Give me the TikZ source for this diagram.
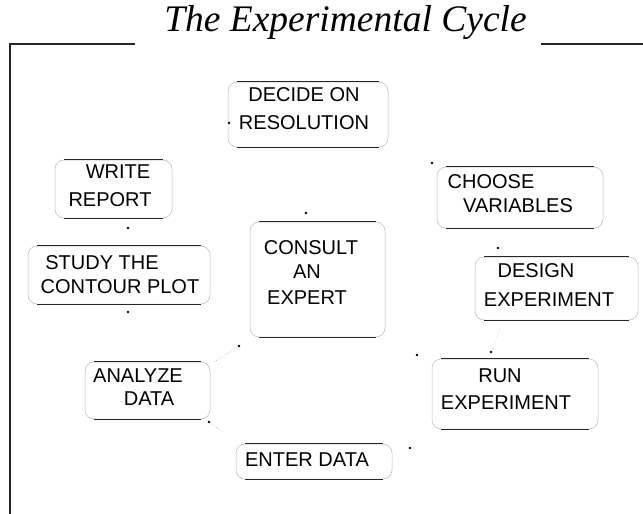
\documentclass[tikz,border=0pt]{standalone}
\usepackage{fontspec}
\setmainfont{Liberation Sans}
\newfontfamily\titlefont{Liberation Serif}
\begin{document}
\begin{tikzpicture}[x=1pt,y=-1pt,
  box/.style={draw=black!28, line width=0.5pt, rounded corners=9pt, inner sep=0pt},
  edgeline/.style={draw=black!85, line width=1.1pt},
  lbl/.style={inner sep=0pt, font=\fontsize{20}{24}\selectfont},
  dotmark/.style={circle, fill=black, inner sep=0pt, minimum size=2.6pt},
  faint/.style={draw=black!35, dotted, line width=0.6pt},
  frameline/.style={draw=black!85, line width=1.3pt}]
\useasboundingbox (0,0) rectangle (643,514);
% title and frame
\node[font=\titlefont\itshape\fontsize{37.5}{40}\selectfont, inner sep=0pt, anchor=base] (title) at (345.5,31) {The Experimental Cycle};
\coordinate (fl0) at (10,514);
\coordinate (fl1) at (10,44);
\coordinate (fl2) at (135,44);
\coordinate (fr1) at (541,44);
\coordinate (fr2) at (643,44);
\draw[frameline] (fl0) -- (fl1) -- (fl2);
\draw[frameline] (fr1) -- (fr2);
% boxes
\node[box, minimum width=160pt, minimum height=65pt] (decide) at (308,114.5) {};
\node[box, minimum width=117pt, minimum height=58pt] (write) at (113.5,189) {};
\node[box, minimum width=182pt, minimum height=58pt] (study) at (119,275) {};
\node[box, minimum width=135pt, minimum height=115pt] (consult) at (317.5,279.5) {};
\node[box, minimum width=166pt, minimum height=61pt] (choose) at (520,197.5) {};
\node[box, minimum width=163pt, minimum height=63pt] (design) at (556.5,288.5) {};
\node[box, minimum width=125pt, minimum height=57pt] (analyze) at (147.5,390.5) {};
\node[box, minimum width=166pt, minimum height=70pt] (run) at (515,394) {};
\node[box, minimum width=156pt, minimum height=35pt] (enter) at (314,461.5) {};
\foreach \n in {decide,write,study,consult,choose,design,analyze,run,enter}{
  \draw[edgeline] ([xshift=9pt]\n.north west) -- ([xshift=-9pt]\n.north east);
  \draw[edgeline] ([xshift=9pt]\n.south west) -- ([xshift=-9pt]\n.south east);
}
% labels
\node[lbl] (decide1) at (304,95) {DECIDE ON};
\node[lbl] (decide2) at (304,123) {RESOLUTION};
\node[lbl] (write1) at (118,172) {WRITE};
\node[lbl] (write2) at (110,200) {REPORT};
\node[lbl] (study1) at (102,263) {STUDY THE};
\node[lbl] (study2) at (120,287) {CONTOUR PLOT};
\node[lbl] (consult1) at (311,248) {CONSULT};
\node[lbl] (consult2) at (307,272) {AN};
\node[lbl] (consult3) at (307,298) {EXPERT};
\node[lbl] (choose1) at (491,182) {CHOOSE};
\node[lbl] (choose2) at (518,206) {VARIABLES};
\node[lbl] (design1) at (536,271) {DESIGN};
\node[lbl] (design2) at (549,300) {EXPERIMENT};
\node[lbl] (analyze1) at (138,376) {ANALYZE};
\node[lbl] (analyze2) at (149,399) {DATA};
\node[lbl] (run1) at (500,376) {RUN};
\node[lbl] (run2) at (506,403) {EXPERIMENT};
\node[lbl] (enter1) at (307,460) {ENTER DATA};
% remnant arrow tips
\node[dotmark] (d1) at (229,123) {};
\node[dotmark] (d2) at (128,228) {};
\node[dotmark] (d3) at (128,312) {};
\node[dotmark] (d4) at (306,213) {};
\node[dotmark] (d5) at (432,163) {};
\node[dotmark] (d6) at (498,248) {};
\node[dotmark] (d7) at (491,352) {};
\node[dotmark] (d8) at (410,448) {};
\node[dotmark] (d9) at (209,422) {};
\node[dotmark] (d10) at (239,346) {};
\node[dotmark] (d11) at (417,355) {};
% faint connector fragments
\coordinate (f1) at (214,362);
\coordinate (f2) at (223,432);
\coordinate (f3) at (500,329);
\draw[faint] (f1) -- (d10);
\draw[faint] (f2) -- (d9);
\draw[faint] (f3) -- (d7);
\end{tikzpicture}
\end{document}
